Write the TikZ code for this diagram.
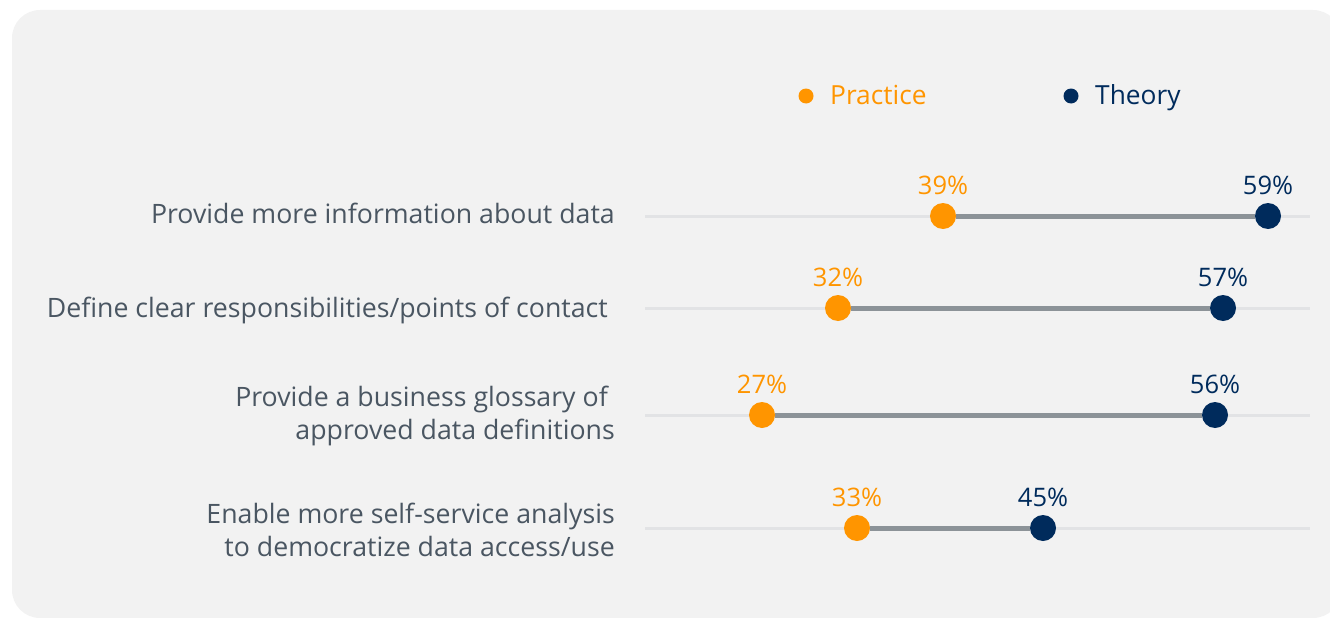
\documentclass[tikz,border=0pt]{standalone}
\usepackage{fontspec}
\setmainfont{Open Sans}
\usepackage{xcolor}
\usetikzlibrary{positioning}
\definecolor{panel}{HTML}{F2F2F2}
\definecolor{practice}{HTML}{FF9500}
\definecolor{theory}{HTML}{002B5C}
\definecolor{labelgray}{HTML}{4A5662}
\definecolor{trackgray}{HTML}{E2E3E5}
\definecolor{gapgray}{HTML}{8C9398}

\begin{document}
\begin{tikzpicture}[x=1pt,y=-1pt,
    txt/.style={font=\fontsize{25.5}{33}\selectfont,inner sep=0pt},
    cat/.style={inner sep=0pt,font=\fontsize{26.7}{33}\selectfont,text=labelgray,align=right,anchor=base east},
    leg/.style={inner sep=0pt,font=\fontsize{26.3}{33}\selectfont,anchor=base west},
    pdot/.style={circle,fill=practice,inner sep=0pt,minimum size=26pt},
    tdot/.style={circle,fill=theory,inner sep=0pt,minimum size=26pt},
    pval/.style={txt,text=practice,above=8pt of #1},
    tval/.style={txt,text=theory,above=8pt of #1},
    track/.style={trackgray,line width=3pt},
    gap/.style={gapgray,line width=5pt}]
      \useasboundingbox (0,0) rectangle (1330,618);
      \fill[panel,rounded corners=28pt] (12,10) rectangle (1341,618);

      % legend
      \node[circle,fill=practice,inner sep=0pt,minimum size=15pt] (lp) at (806,96) {};
      \node[leg,text=practice] (lpt) at (830,104) {Practice};
      \node[circle,fill=theory,inner sep=0pt,minimum size=15pt] (lt) at (1071,96) {};
      \node[leg,text=theory] (ltt) at (1095,104) {Theory};

      % rows
      \node[cat] (c1) at (615,223) {Provide more information about data};
      \node[cat] (c2) at (608,317) {Define clear responsibilities/points of contact};
      \node[cat] (c3) at (615,439) {Provide a business glossary of\hspace*{7pt}\\approved data definitions};
      \node[cat] (c4) at (615,556) {Enable more self-service analysis\\to democratize data access/use};

      \coordinate (a1) at (645,216);
      \coordinate (b1) at (1310,216);
      \coordinate (a2) at (645,308);
      \coordinate (b2) at (1310,308);
      \coordinate (a3) at (645,415);
      \coordinate (b3) at (1310,415);
      \coordinate (a4) at (645,528);
      \coordinate (b4) at (1310,528);
      \draw[track] (a1) -- (b1);
      \draw[track] (a2) -- (b2);
      \draw[track] (a3) -- (b3);
      \draw[track] (a4) -- (b4);

      \node[pdot] (p1) at (943,216) {};
      \node[tdot] (t1) at (1268,216) {};
      \node[pdot] (p2) at (838,308) {};
      \node[tdot] (t2) at (1223,308) {};
      \node[pdot] (p3) at (762,415) {};
      \node[tdot] (t3) at (1215,415) {};
      \node[pdot] (p4) at (857,528) {};
      \node[tdot] (t4) at (1043,528) {};
      \draw[gap] (p1) -- (t1);
      \draw[gap] (p2) -- (t2);
      \draw[gap] (p3) -- (t3);
      \draw[gap] (p4) -- (t4);

      \node[pval=p1] (p1v) {39\%};
      \node[tval=t1] (t1v) {59\%};
      \node[pval=p2] (p2v) {32\%};
      \node[tval=t2] (t2v) {57\%};
      \node[pval=p3] (p3v) {27\%};
      \node[tval=t3] (t3v) {56\%};
      \node[pval=p4] (p4v) {33\%};
      \node[tval=t4] (t4v) {45\%};
    \end{tikzpicture}
\end{document}
